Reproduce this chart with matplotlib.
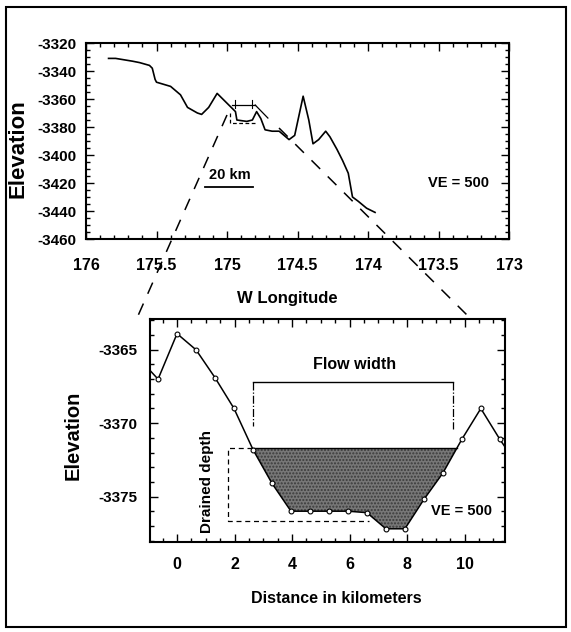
import numpy as np
import matplotlib
matplotlib.use("Agg")
import matplotlib.pyplot as plt
from matplotlib.lines import Line2D
from matplotlib.patches import Rectangle
from matplotlib.ticker import MultipleLocator

plt.rcParams['font.family'] = ['Liberation Sans', 'DejaVu Sans']
plt.rcParams['font.weight'] = 'bold'
plt.rcParams['axes.unicode_minus'] = False
plt.rcParams['hatch.color'] = '#3a3a3a'

# top profile: W longitude vs elevation
lon = [175.84, 175.79, 175.67, 175.62, 175.55, 175.53, 175.51, 175.50, 175.40,
       175.33, 175.28, 175.21, 175.18, 175.13, 175.07, 175.04, 174.97, 174.94,
       174.93, 174.86, 174.82, 174.79, 174.76, 174.73, 174.68, 174.63, 174.56,
       174.52, 174.46, 174.42, 174.39, 174.35, 174.30, 174.27, 174.22, 174.18,
       174.14, 174.11, 174.07, 174.01, 173.95]
lon_elev = [-3331, -3331, -3333, -3334, -3336, -3338, -3346, -3348, -3351,
            -3357, -3366, -3370, -3371, -3366, -3356, -3359, -3366, -3369,
            -3375, -3376, -3375, -3369, -3374, -3382, -3383, -3383, -3389,
            -3386, -3358, -3375, -3392, -3389, -3383, -3387, -3396, -3404,
            -3413, -3430, -3433, -3438, -3441]

# bottom profile: distance (km) vs elevation
dist = np.array([-1.32, -0.66, 0.0, 0.66, 1.32, 1.98, 2.64, 3.30, 3.96, 4.62,
                 5.28, 5.94, 6.60, 7.26, 7.92, 8.58, 9.24, 9.90, 10.56, 11.22, 11.88])
dist_elev = np.array([-3365.6, -3367.0, -3363.9, -3365.0, -3366.9, -3369.0,
                      -3371.8, -3374.1, -3376.0, -3376.0, -3376.0, -3376.0,
                      -3376.1, -3377.2, -3377.2, -3375.2, -3373.4, -3371.1,
                      -3369.0, -3371.1, -3373.0])
flow_top = -3371.7

W, H = 571, 632
fig = plt.figure(figsize=(W / 100, H / 100), dpi=100)
fig.patch.set_facecolor('white')


def px_axes(l, t, r, b):
    return fig.add_axes([l / W, 1 - b / H, (r - l) / W, (b - t) / H])


def style(ax, xmaj, xmin, ymaj, ymin, pad_x, pad_y):
    ax.xaxis.set_major_locator(MultipleLocator(xmaj))
    ax.xaxis.set_minor_locator(MultipleLocator(xmin))
    ax.yaxis.set_major_locator(MultipleLocator(ymaj))
    ax.yaxis.set_minor_locator(MultipleLocator(ymin))
    ax.tick_params(which='both', direction='in', top=True, right=True, width=1)
    ax.tick_params(which='major', length=6)
    ax.tick_params(which='minor', length=3)
    ax.tick_params(axis='x', which='major', pad=pad_x, labelsize=11.5)
    ax.tick_params(axis='y', which='major', pad=pad_y, labelsize=11)
    for s in ax.spines.values():
        s.set_linewidth(1.5)


# ---- top panel
ax1 = px_axes(86, 43, 509, 239)
ax1.plot(lon, lon_elev, color='black', lw=1.2)
ax1.set_xlim(176, 173)
ax1.set_ylim(-3460, -3320)
style(ax1, 0.5, 0.1, 20, 5, 14, 7)
ax1.xaxis.set_major_formatter(plt.FuncFormatter(lambda v, p: f"{v:g}"))
ax1.set_xlabel("W Longitude", fontsize=12, fontweight='bold')
ax1.xaxis.set_label_coords(0.475, -0.265)
ax1.set_ylabel("Elevation", fontsize=16, fontweight='bold')
ax1.yaxis.set_label_coords(-0.135, 0.46)

# flow schematic in top panel
ax1.plot([174.967, 174.80], [-3364.3, -3364.3], color='black', lw=0.9)
ax1.plot([174.94, 174.94], [-3361, -3366.5], color='black', lw=0.8)
ax1.plot([174.825, 174.825], [-3361, -3366.5], color='black', lw=0.8)
ax1.plot([174.80, 174.71], [-3364.3, -3373.6], color='black', lw=0.9)
ax1.plot([174.98, 174.98, 174.79], [-3370, -3377, -3377], color='black',
         lw=0.9, ls=(0, (3, 2)))
ax1.plot([175.156, 174.816], [-3423, -3423], color='black', lw=1.3)
ax1.text(174.98, -3414, "20 km", ha='center', va='center', fontsize=10.5)
ax1.text(173.36, -3420, "VE = 500", ha='center', va='center', fontsize=10.5)

# ---- bottom panel
ax2 = px_axes(150, 319, 505, 542)
ax2.fill_between(dist, dist_elev, flow_top,
                 where=(dist_elev <= flow_top) & (dist < 10.5),
                 interpolate=True, facecolor='#777777', edgecolor='none',
                 hatch='.....', zorder=1)
ax2.plot(dist, dist_elev, color='black', lw=1.1, marker='o', ms=3.5,
         mfc='white', mec='black', mew=0.8, zorder=3)
ax2.plot([2.62, 9.72], [flow_top, flow_top], color='black', lw=1.0, zorder=2)
ax2.set_xlim(-0.94, 11.4)
ax2.set_ylim(-3378.1, -3362.9)
style(ax2, 2, 0.5, 5, 1, 11, 9)
ax2.set_xlabel("Distance in kilometers", fontsize=11.5, fontweight='bold')
ax2.xaxis.set_label_coords(0.524, -0.22)
ax2.set_ylabel("Elevation", fontsize=14.5, fontweight='bold')
ax2.yaxis.set_label_coords(-0.19, 0.48)

# flow width bracket
ax2.plot([2.65, 9.6], [-3367.2, -3367.2], color='black', lw=1.0)
ax2.plot([2.65, 2.65], [-3367.2, -3370.2], color='black', lw=0.9, ls='-.')
ax2.plot([9.6, 9.6], [-3367.2, -3370.4], color='black', lw=0.9, ls='-.')
ax2.text(6.18, -3366.0, "Flow width", ha='center', va='center', fontsize=11.5)

# drained depth box
ax2.plot([2.62, 1.78, 1.78, 6.68], [flow_top, flow_top, -3376.7, -3376.7],
         color='black', lw=0.9, ls=(0, (4, 3)))
ax2.text(1.05, -3374.0, "Drained depth", ha='center', va='center',
         rotation=90, fontsize=11)
ax2.text(9.88, -3376.0, "VE = 500", ha='center', va='center', fontsize=10.5)

# zoom lines between panels (figure pixel coordinates)
for (x0, y0), (x1, y1) in [((227, 115), (137, 318)), ((279, 128), (470, 318))]:
    fig.add_artist(Line2D([x0 / W, x1 / W], [1 - y0 / H, 1 - y1 / H],
                          transform=fig.transFigure, color='black', lw=1.1,
                          ls=(0, (8, 7))))

# outer frame
fig.add_artist(Rectangle((6 / W, 5 / H), 560 / W, 620 / H, transform=fig.transFigure,
                         fill=False, edgecolor='black', lw=1.5))

fig.savefig("out.png", dpi=100)
